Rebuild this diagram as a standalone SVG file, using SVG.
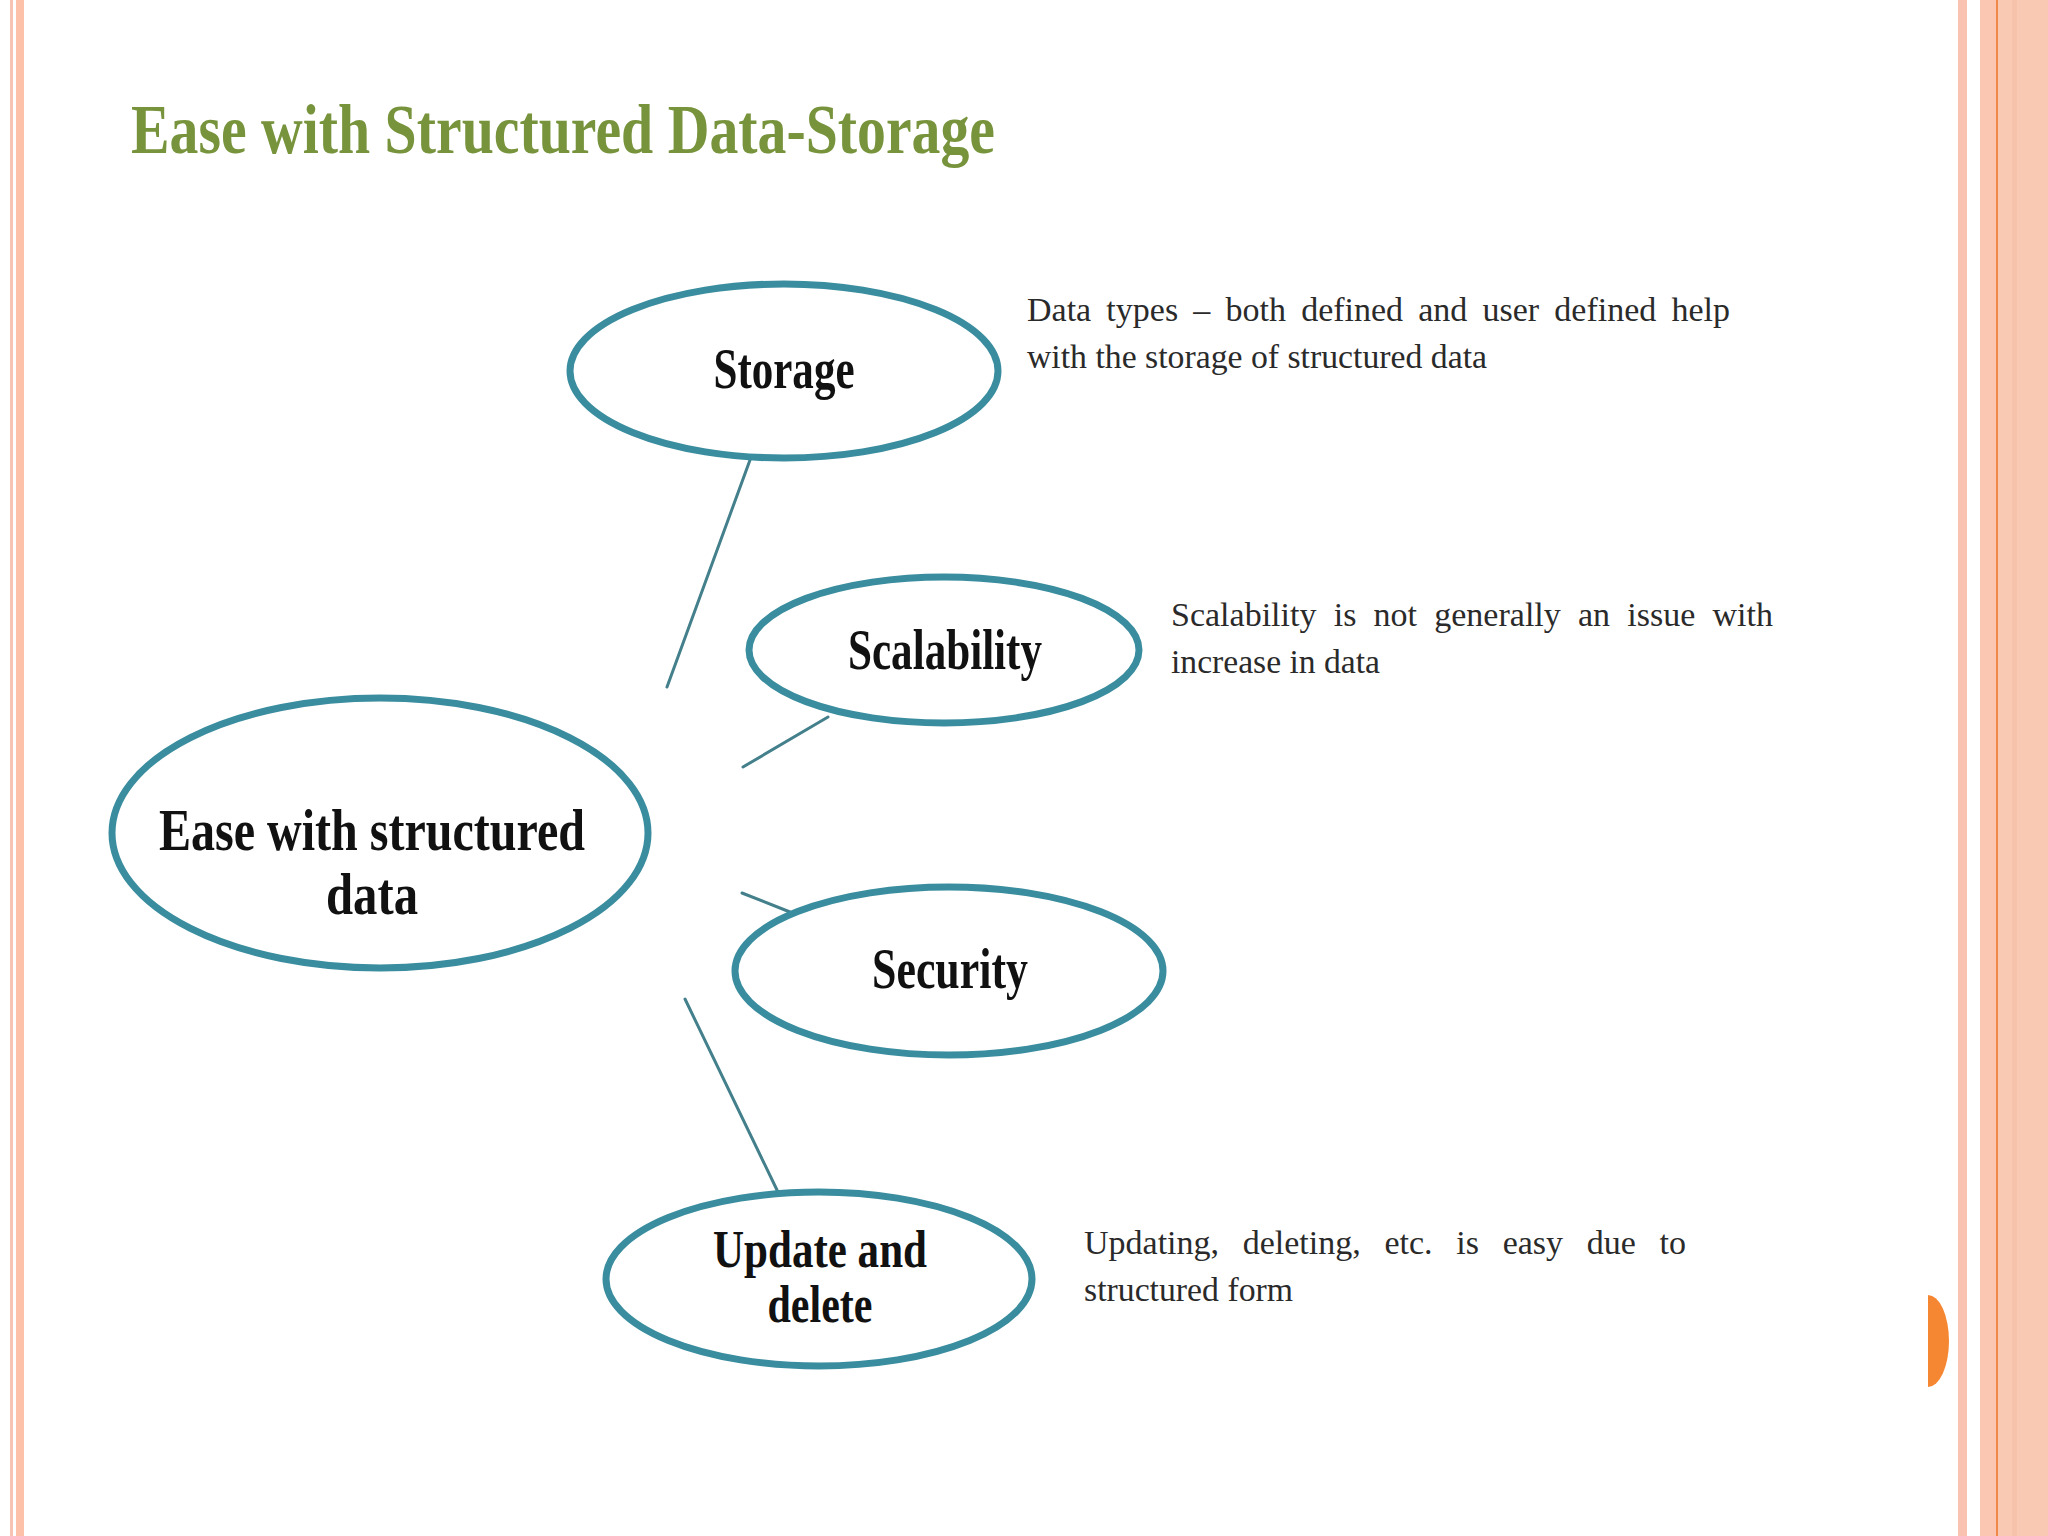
<svg xmlns="http://www.w3.org/2000/svg" width="2048" height="1536" viewBox="0 0 2048 1536">
  <style>
    .node { fill: #ffffff; stroke: #3A8D9E; stroke-width: 7; }
    .lbl { font-family: "Liberation Serif", "Times New Roman", serif; font-weight: bold; fill: #111111; text-anchor: middle; }
    .desc { font-family: "Liberation Serif", "Times New Roman", serif; font-size: 34px; fill: #2a2a2a; }
    .conn { stroke: #44808C; stroke-width: 3; fill: none; stroke-linecap: round; }
  </style>
  <rect x="0" y="0" width="2048" height="1536" fill="#ffffff"/>

  <g id="frame">
    <rect x="10" y="0" width="3" height="1536" fill="#F7C4B4"/>
    <rect x="16" y="0" width="8" height="1536" fill="#FDC0A8"/>
    <rect x="1958" y="0" width="9" height="1536" fill="#FAC2B0"/>
    <rect x="1980" y="0" width="16" height="1536" fill="#FBC6B2"/>
    <rect x="1996" y="0" width="2" height="1536" fill="#F0884A"/>
    <rect x="1998" y="0" width="50" height="1536" fill="#FAC9B4"/>
    <rect x="2012" y="0" width="5" height="1536" fill="#F7C2AA"/>
    <path d="M1928,1295 A21,46 0 0 1 1928,1387 Z" fill="#F58733"/>
  </g>

  <text id="title" x="131" y="153" font-family="'Liberation Serif', 'Times New Roman', serif" font-weight="bold" font-size="70" fill="#77933C" textLength="864" lengthAdjust="spacingAndGlyphs">Ease with Structured Data-Storage</text>

  <g id="connectors">
    <line class="conn" x1="750" y1="460" x2="667" y2="687"/>
    <line class="conn" x1="828" y1="717" x2="743" y2="767"/>
    <line class="conn" x1="742" y1="893" x2="790" y2="912"/>
    <line class="conn" x1="685" y1="999" x2="777" y2="1190"/>
  </g>

  <g id="node-main">
    <ellipse class="node" cx="380" cy="833" rx="268" ry="135" stroke-width="6"/>
    <text class="lbl" x="372" y="850" font-size="60" textLength="426" lengthAdjust="spacingAndGlyphs">Ease with structured</text>
    <text class="lbl" x="372" y="914" font-size="60" textLength="92" lengthAdjust="spacingAndGlyphs">data</text>
  </g>

  <g id="node-storage">
    <ellipse class="node" cx="784" cy="371" rx="214" ry="87"/>
    <text class="lbl" x="784" y="388" font-size="56" textLength="141" lengthAdjust="spacingAndGlyphs">Storage</text>
  </g>

  <g id="node-scalability">
    <ellipse class="node" cx="944" cy="650" rx="195" ry="73"/>
    <text class="lbl" x="945" y="669" font-size="56" textLength="194" lengthAdjust="spacingAndGlyphs">Scalability</text>
  </g>

  <g id="node-security">
    <ellipse class="node" cx="949" cy="971" rx="214" ry="84"/>
    <text class="lbl" x="950" y="988" font-size="56" textLength="156" lengthAdjust="spacingAndGlyphs">Security</text>
  </g>

  <g id="node-update">
    <ellipse class="node" cx="819" cy="1279" rx="213" ry="87"/>
    <text class="lbl" x="820" y="1267" font-size="52" textLength="214" lengthAdjust="spacingAndGlyphs">Update and</text>
    <text class="lbl" x="820" y="1322" font-size="52" textLength="105" lengthAdjust="spacingAndGlyphs">delete</text>
  </g>

  <g id="desc-storage">
    <text class="desc" x="1027" y="321" word-spacing="6.7" textLength="703" lengthAdjust="spacing">Data types – both defined and user defined help</text>
    <text class="desc" x="1027" y="368" textLength="460" lengthAdjust="spacingAndGlyphs">with the storage of structured data</text>
  </g>

  <g id="desc-scalability">
    <text class="desc" x="1171" y="626" word-spacing="8.7" textLength="602" lengthAdjust="spacing">Scalability is not generally an issue with</text>
    <text class="desc" x="1171" y="673" textLength="209" lengthAdjust="spacingAndGlyphs">increase in data</text>
  </g>

  <g id="desc-update">
    <text class="desc" x="1084" y="1254" word-spacing="15.2" textLength="602" lengthAdjust="spacing">Updating, deleting, etc. is easy due to</text>
    <text class="desc" x="1084" y="1301" textLength="209" lengthAdjust="spacingAndGlyphs">structured form</text>
  </g>
</svg>
